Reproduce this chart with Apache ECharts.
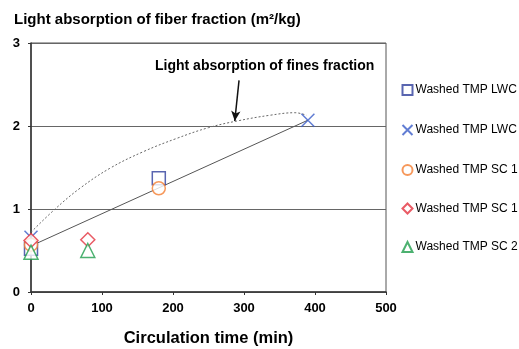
<!DOCTYPE html>
<html>
<head>
<meta charset="utf-8">
<style>
  html, body { margin: 0; padding: 0; background: #fff; }
  #chart { width: 519px; height: 349px; }
</style>
<script src="https://cdn.jsdelivr.net/npm/echarts@6/dist/echarts.min.js"></script>
</head>
<body>
<div id="chart"></div>
<script>
// measured points, [circulation time (min), light absorption (m2/kg)]
const lwcSquare = [[0, 0.52], [180, 1.37]]
const lwcCross = [[0, 0.66], [390, 2.07]]
const sc1Circle = [[0, 0.57], [180, 1.25]]
const sc1Diamond = [[0, 0.62], [80, 0.63]]
const sc2Triangle = [[0, 0.48], [80, 0.5]]

// fitted fiber line and hand-drawn fines curve
const fiberTrend = [[0, 0.555], [390, 2.07]]
const finesCurve = [
  [0, 0.72], [34, 1.0], [69, 1.25], [111, 1.49], [158, 1.69], [205, 1.85],
  [250, 1.98], [290, 2.06], [337, 2.13], [372, 2.16], [388, 2.13]
]
const arrowFrom = [293, 2.55]
const arrowTo = [287, 2.06]

const xTicks = [0, 100, 200, 300, 400, 500]
const yTicks = [0, 1, 2, 3]

const font = 'Liberation Sans, Arial, sans-serif'
const crossPath = 'path://M0,0L10,10M10,0L0,10'

const chart = echarts.init(document.getElementById('chart'))

const scatter = (name, data, symbol, color, size) => ({
  name,
  type: 'scatter',
  data,
  symbol,
  symbolSize: size,
  itemStyle: { color: symbol === crossPath ? 'none' : '#fff', borderColor: color, borderWidth: 1.5 },
  z: 5
})

chart.setOption({
  animation: false,
  textStyle: { fontFamily: font },
  title: {
    text: 'Light absorption of fiber fraction (m²/kg)',
    left: 9,
    top: 7,
    textStyle: { fontSize: 15, fontWeight: 'bold', color: '#000', fontFamily: font }
  },
  legend: {
    orient: 'vertical',
    left: 395,
    top: 79,
    itemGap: 26.5,
    itemWidth: 10,
    itemHeight: 10,
    textStyle: { fontSize: 12, lineHeight: 12, color: '#000', fontFamily: font, padding: [0, 0, 0, -2] },
    data: ['Washed TMP LWC', 'Washed TMP LWC ', 'Washed TMP SC 1', 'Washed TMP SC 1 ', 'Washed TMP SC 2']
  },
  grid: {
    left: 31,
    right: 133,
    top: 43,
    bottom: 57,
    outerBoundsMode: 'none',
    show: true,
    borderColor: '#555',
    borderWidth: 1
  },
  xAxis: {
    type: 'value',
    min: xTicks[0],
    max: xTicks[xTicks.length - 1],
    interval: 100,
    name: 'Circulation time (min)',
    nameLocation: 'middle',
    nameGap: 38,
    nameTextStyle: { fontSize: 16.5, fontWeight: 'bold', color: '#000' },
    axisLine: { lineStyle: { color: '#333', width: 1.5 } },
    axisTick: { show: true, length: 3, lineStyle: { color: '#333' } },
    axisLabel: { fontSize: 13, fontWeight: 'bold', color: '#000', margin: 10 },
    splitLine: { show: false }
  },
  yAxis: {
    type: 'value',
    min: yTicks[0],
    max: yTicks[yTicks.length - 1],
    interval: 1,
    axisLine: { show: true, lineStyle: { color: '#333', width: 1.5 } },
    axisTick: { show: true, length: 3, lineStyle: { color: '#333' } },
    axisLabel: { fontSize: 13, fontWeight: 'bold', color: '#000', margin: 11 },
    splitLine: { show: true, lineStyle: { color: '#666', width: 1 } }
  },
  series: [
    {
      type: 'line',
      data: finesCurve,
      smooth: 0.4,
      showSymbol: false,
      lineStyle: { color: '#666', width: 1, type: [2, 2] },
      silent: true,
      z: 2,
      markLine: {
        silent: true,
        symbol: ['none', 'arrow'],
        symbolSize: [7, 10],
        lineStyle: { color: '#111', width: 1.5, type: 'solid' },
        label: { show: false },
        data: [[{ coord: arrowFrom }, { coord: arrowTo }]]
      }
    },
    {
      type: 'line',
      data: fiberTrend,
      showSymbol: false,
      lineStyle: { color: '#555', width: 1 },
      silent: true,
      z: 3
    },
    scatter('Washed TMP LWC', lwcSquare, 'rect', '#2f3f9c', 13),
    scatter('Washed TMP LWC ', lwcCross, crossPath, '#3a5cc8', 13),
    scatter('Washed TMP SC 1', sc1Circle, 'circle', '#f47e32', 13),
    scatter('Washed TMP SC 1 ', sc1Diamond, 'diamond', '#e4323f', 14),
    scatter('Washed TMP SC 2', sc2Triangle, 'triangle', '#1f9e4c', 14)
  ],
  graphic: [{
    type: 'text',
    left: 155,
    top: 59,
    style: { text: 'Light absorption of fines fraction', fill: '#000', font: 'bold 14px ' + font }
  }]
})
</script>
</body>
</html>
